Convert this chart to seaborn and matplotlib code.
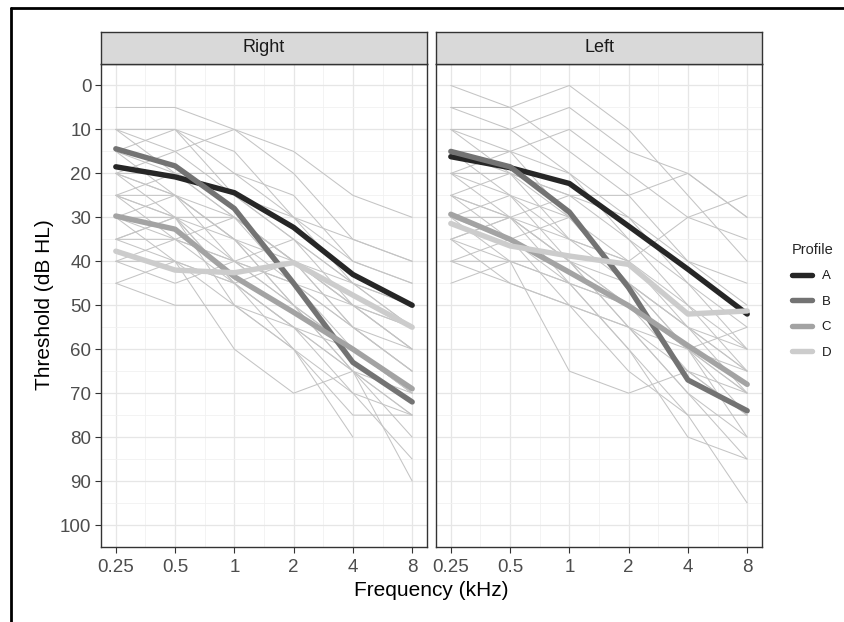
import numpy as np
import pandas as pd
import matplotlib
matplotlib.use("Agg")
import matplotlib.pyplot as plt
import seaborn as sns
from matplotlib.lines import Line2D
from matplotlib.ticker import NullFormatter, FixedFormatter

# ---------------- data ----------------
freqs = [0.25, 0.5, 1, 2, 4, 8]
freq_labels = ["0.25", "0.5", "1", "2", "4", "8"]
profiles = ["A", "B", "C", "D"]
profile_colors = ["#262626", "#737373", "#a3a3a3", "#cccccc"]

right_A = [18.5, 20.8, 24.4, 32.3, 43.0, 50.0]
right_B = [14.4, 18.3, 28.0, 45.0, 63.0, 72.0]
right_C = [29.7, 32.7, 43.5, 51.6, 60.0, 69.0]
right_D = [37.7, 42.0, 42.6, 40.3, 47.7, 55.0]

left_A = [16.2, 18.7, 22.3, 32.0, 41.8, 52.0]
left_B = [15.0, 18.5, 28.8, 46.0, 67.0, 74.0]
left_C = [29.3, 35.0, 42.5, 50.1, 59.2, 68.0]
left_D = [31.4, 36.5, 38.8, 40.7, 52.0, 51.3]

nan = np.nan
right_individuals = [
    [5, 5, 10, 15, 25, 30],
    [10, 10, 20, 25, 40, 45],
    [10, 15, 10, 20, 35, 40],
    [10, 10, 15, 30, 45, 55],
    [15, 10, 25, 35, 50, 60],
    [15, 20, 20, 30, 40, 45],
    [20, 15, 25, 35, 45, 50],
    [20, 25, 30, 40, 55, 65],
    [20, 20, 30, 45, 60, 70],
    [25, 20, 25, 30, 35, 40],
    [25, 25, 35, 45, 55, 60],
    [25, 30, 30, 40, 50, 55],
    [30, 25, 35, 50, 60, 70],
    [30, 30, 40, 45, 55, 65],
    [30, 35, 45, 55, 65, 75],
    [35, 30, 35, 40, 45, 50],
    [35, 35, 40, 50, 60, 70],
    [35, 40, 45, 40, 50, 60],
    [40, 35, 30, 40, 55, 65],
    [40, 40, 50, 55, 65, 75],
    [40, 45, 40, 45, 50, 55],
    [45, 40, 45, 55, 60, 70],
    [45, 50, 50, 60, 70, 85],
    [20, 30, 45, 55, 70, 75],
    [15, 25, 40, 50, 65, 80],
    [25, 30, 50, 60, 75, 75],
    [30, 40, 60, 70, 65, 70],
    [35, 30, 45, 60, 80, nan],
    [20, 25, 35, 50, 65, 90],
    [10, 20, 30, 40, 50, 60],
    [25, 35, 40, 35, 45, 55],
]

left_individuals = [
    [0, 5, 0, 10, 25, 40],
    [5, 10, 5, 15, 20, 30],
    [5, 5, 15, 25, 40, 50],
    [10, 15, 10, 20, 30, 25],
    [10, 10, 20, 30, 45, 55],
    [15, 20, 25, 25, 20, 30],
    [15, 15, 20, 35, 50, 65],
    [20, 25, 30, 40, 55, 70],
    [20, 20, 25, 35, 45, 60],
    [25, 20, 30, 45, 60, 75],
    [25, 30, 35, 40, 50, 60],
    [30, 30, 40, 50, 65, 75],
    [30, 35, 30, 45, 55, 65],
    [35, 30, 40, 55, 70, 80],
    [35, 40, 45, 50, 60, 70],
    [40, 35, 45, 60, 75, 75],
    [40, 45, 50, 55, 65, 70],
    [45, 40, 45, 50, 60, 65],
    [20, 30, 45, 60, 80, 85],
    [25, 35, 50, 65, 75, 95],
    [30, 40, 65, 70, 65, 75],
    [15, 25, 40, 55, 70, 85],
    [10, 20, 35, 45, 60, 70],
    [35, 30, 25, 30, 40, 45],
    [30, 25, 35, 40, 30, 35],
    [20, 15, 30, 45, 55, 65],
    [40, 40, 40, 45, 55, 60],
    [25, 30, 40, 50, 60, 80],
    [35, 45, 50, 55, 60, 55],
]

y_ticks = list(range(0, 101, 10))

# ---------------- build frames ----------------
def individuals_df(rows):
    recs = []
    for i, r in enumerate(rows):
        for f, v in zip(freqs, r):
            recs.append({"id": i, "freq": f, "thr": v})
    return pd.DataFrame(recs).dropna()

def profiles_df(series):
    recs = []
    for p, vals in zip(profiles, series):
        for f, v in zip(freqs, vals):
            recs.append({"Profile": p, "freq": f, "thr": v})
    return pd.DataFrame(recs)

panels = [
    ("Right", individuals_df(right_individuals),
     profiles_df([right_A, right_B, right_C, right_D])),
    ("Left", individuals_df(left_individuals),
     profiles_df([left_A, left_B, left_C, left_D])),
]

# ---------------- figure ----------------
sns.set_theme(style="white")
plt.rcParams["font.family"] = ["Liberation Sans", "DejaVu Sans"]

W, H = 845, 622
fig = plt.figure(figsize=(W / 100, H / 100), dpi=100)
fig.patch.set_facecolor("white")

panel_lefts = [101, 436]
panel_w = 326
panel_top = 63.5
panel_bot = 547
strip_top = 31.5

grid_major = "#e6e6e6"
grid_minor = "#f1f1f1"
frame_col = "#333333"

xlim = (0.25 * 2 ** -0.25, 8 * 2 ** 0.25)
minor_x = [f * np.sqrt(2) for f in freqs[:-1]]

for k, (name, ind, prof) in enumerate(panels):
    x0 = panel_lefts[k]
    ax = fig.add_axes([x0 / W, 1 - panel_bot / H, panel_w / W, (panel_bot - panel_top) / H])
    sns.lineplot(data=ind, x="freq", y="thr", units="id", estimator=None,
                 color="#c4c4c4", lw=0.75, ax=ax, legend=False, sort=True)
    sns.lineplot(data=prof, x="freq", y="thr", hue="Profile",
                 hue_order=profiles, palette=profile_colors,
                 lw=3.9, ax=ax, legend=False, estimator=None)

    ax.set_xscale("log", base=2)
    ax.set_xlim(*xlim)
    ax.set_ylim(105, -5)

    ax.set_xticks(freqs)
    ax.set_xticks(minor_x, minor=True)
    ax.xaxis.set_major_formatter(FixedFormatter(freq_labels))
    ax.xaxis.set_minor_formatter(NullFormatter())
    ax.set_yticks(y_ticks)
    ax.set_yticks(list(range(5, 101, 10)), minor=True)
    ax.yaxis.set_minor_formatter(NullFormatter())
    ax.grid(True, which="major", color=grid_major, lw=0.9, zorder=0)
    ax.grid(True, which="minor", color=grid_minor, lw=0.6, zorder=0)
    ax.set_axisbelow(True)

    ax.set_xlabel("")
    ax.set_ylabel("")
    for s in ax.spines.values():
        s.set_color(frame_col)
        s.set_linewidth(1.0)
    ax.tick_params(axis="both", which="major", length=4, width=0.8,
                   color=frame_col, labelcolor="#4d4d4d", labelsize=13.5,
                   direction="out", pad=3, bottom=True, left=True)
    ax.tick_params(axis="x", which="major", pad=5)
    ax.tick_params(axis="both", which="minor", length=0)
    if k == 1:
        ax.tick_params(axis="y", which="major", labelleft=False, length=0)

    sax = fig.add_axes([x0 / W, 1 - panel_top / H, panel_w / W, (panel_top - strip_top) / H])
    sax.set_facecolor("#d9d9d9")
    sax.set_xticks([])
    sax.set_yticks([])
    for s in sax.spines.values():
        s.set_color(frame_col)
        s.set_linewidth(1.0)
    sax.text(0.5, 0.5, name, ha="center", va="center", fontsize=13,
             color="#1a1a1a", transform=sax.transAxes)

fig.text(45 / W, 1 - 305 / H, "Threshold (dB HL)", rotation=90,
         ha="center", va="center", fontsize=15, color="black")
fig.text(431 / W, 1 - 591 / H, "Frequency (kHz)", ha="center", va="center",
         fontsize=15, color="black")

handles = [Line2D([0], [0], color=c, lw=3.9) for c in profile_colors]
leg = fig.legend(handles, profiles, title="Profile", loc="upper left",
                 bbox_to_anchor=(780 / W, 1 - 231 / H), frameon=False,
                 fontsize=9.5, title_fontsize=10.5, handlelength=1.55,
                 labelspacing=1.0, handletextpad=0.7, alignment="left")
for t in leg.get_texts():
    t.set_color("#1a1a1a")

# partial outer frame (top and left)
fig.add_artist(Line2D([11 / W, 11 / W], [0, 1 - 7.5 / H], transform=fig.transFigure,
                      color="black", lw=2))
fig.add_artist(Line2D([11 / W, 1], [1 - 7.5 / H, 1 - 7.5 / H], transform=fig.transFigure,
                      color="black", lw=2))

fig.savefig("out.png", dpi=100, facecolor="white")
